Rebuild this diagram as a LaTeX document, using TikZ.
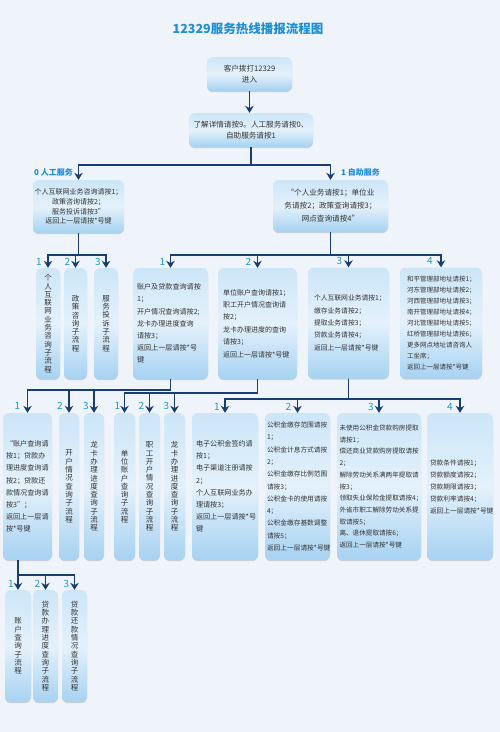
\documentclass[tikz,border=0pt]{standalone}
\usepackage{fontspec}
\setmainfont{Noto Sans CJK SC}
\usetikzlibrary{arrows.meta,shadows}

\definecolor{bgblue}{HTML}{EEF4FA}
\definecolor{boxtop}{HTML}{CCE6F8}
\definecolor{boxmid}{HTML}{E4F1FB}
\definecolor{boxbot}{HTML}{A6D2F2}
\definecolor{navy}{HTML}{173D73}
\definecolor{titleblue}{HTML}{1D8ED6}
\definecolor{numblue}{HTML}{1E9CC6}
\definecolor{boxtext}{HTML}{333333}

\begin{document}
\begin{tikzpicture}[x=1pt,y=-1pt,>={Stealth[length=7pt,width=8.5pt]},
  box/.style={rounded corners=6pt,top color=boxtop,bottom color=boxbot,middle color=boxmid,
    drop shadow={shadow xshift=0pt,shadow yshift=-1.2pt,opacity=.15,fill=black},
    text=boxtext,inner sep=0pt},
  cbox/.style={box,align=center},
  lbox/.style={box,align=left},
  vbox/.style={box,align=center,text width=8pt,font=\fontsize{7.5}{8.3}\selectfont},
  link/.style={draw=navy,line width=1.8pt},
  num/.style={text=numblue,inner sep=0pt,font=\fontsize{10}{10}\selectfont},
  svc/.style={text=titleblue,inner sep=0pt,font=\fontsize{8}{8}\bfseries\selectfont}]

\fill[bgblue] (0,0) rectangle (500,732);

\node[text=titleblue,font=\fontsize{12.5}{12.5}\bfseries\selectfont] (title) at (248,29) {12329服务热线播报流程图};

% top
\node[cbox,minimum width=85pt,minimum height=34pt,font=\fontsize{7.6}{11.5}\selectfont] (call) at (249.5,74) {客户拨打12329\\进入};
\node[cbox,minimum width=124pt,minimum height=34pt,font=\fontsize{7.6}{11.5}\selectfont] (menu) at (251,130) {了解详情请按9。人工服务请按0、\\自助服务请按1};

\node[cbox,minimum width=91pt,minimum height=53pt,font=\fontsize{7}{9.7}\selectfont] (manual) at (78.5,206.5) {个人互联网业务咨询请按1；\\政策咨询请按2；\\服务投诉请按3”\\返回上一层请按*号键};
\node[cbox,minimum width=115pt,minimum height=52pt,font=\fontsize{7.6}{13}\selectfont] (self) at (330.5,206) {“个人业务请按1；单位业\\务请按2；政策查询请按3；\\网点查询请按4”};

\node[svc,anchor=east] (svc0) at (73,172) {0 人工服务};
\node[svc,anchor=west] (svc1) at (341,172) {1 自助服务};

% level 3
\node[vbox,minimum width=24pt,minimum height=111pt] (netq) at (48,323.5) {个\\人\\互\\联\\网\\业\\务\\咨\\询\\子\\流\\程};
\node[vbox,minimum width=23pt,minimum height=111pt] (policy) at (75.5,323.5) {政\\策\\咨\\询\\子\\流\\程};
\node[vbox,minimum width=24pt,minimum height=111pt] (complain) at (106,323.5) {服\\务\\投\\诉\\子\\流\\程};

\node[lbox,minimum width=75pt,minimum height=111pt,text width=67pt,inner xsep=4pt,font=\fontsize{7.1}{12.2}\selectfont] (personal) at (170.5,323.5) {账户及贷款查询请按\\1；\\开户情况查询请按2;\\龙卡办理进度查询\\请按3；\\返回上一层请按*号\\键};
\node[lbox,minimum width=79pt,minimum height=111pt,text width=69pt,inner xsep=5pt,font=\fontsize{7}{12.4}\selectfont] (unit) at (257.5,323.5) {单位账户查询请按1；\\职工开户情况查询请\\按2；\\龙卡办理进度的查询\\请按3；\\返回上一层请按*号键};
\node[lbox,minimum width=81pt,minimum height=111pt,text width=69pt,inner xsep=6pt,font=\fontsize{6.8}{12.4}\selectfont] (business) at (348.5,323) {个人互联网业务请按1；\\缴存业务请按2；\\提取业务请按3；\\贷款业务请按4；\\返回上一层请按*号键};
\node[lbox,minimum width=82pt,minimum height=111pt,text width=68pt,inner xsep=7pt,font=\fontsize{6.5}{11}\selectfont] (branch) at (441,323) {和平管理部地址请按1；\\河东管理部地址请按2；\\河西管理部地址请按3；\\南开管理部地址请按4；\\河北管理部地址请按5；\\红桥管理部地址请按6；\\更多网点地址请咨询人\\工坐席；\\返回上一层请按*号键};

% level 4
\node[lbox,minimum width=49pt,minimum height=147pt,text width=43pt,inner xsep=3pt,font=\fontsize{7.1}{12.2}\selectfont] (acctmenu) at (27.5,486.5) {“账户查询请\\按1；贷款办\\理进度查询请\\按2；贷款还\\款情况查询请\\按3”；\\返回上一层请\\按*号键};
\node[vbox,minimum width=20pt,minimum height=147pt] (openq) at (69,486.5) {开\\户\\情\\况\\查\\询\\子\\流\\程};
\node[vbox,minimum width=20pt,minimum height=147pt] (cardq) at (94,486.5) {龙\\卡\\办\\理\\进\\度\\查\\询\\子\\流\\程};
\node[vbox,minimum width=21pt,minimum height=147pt] (unitacct) at (124.5,486.5) {单\\位\\账\\户\\查\\询\\子\\流\\程};
\node[vbox,minimum width=21pt,minimum height=147pt] (staffopen) at (149.5,486.5) {职\\工\\开\\户\\情\\况\\查\\询\\子\\流\\程};
\node[vbox,minimum width=21pt,minimum height=147pt] (unitcard) at (174.5,486.5) {龙\\卡\\办\\理\\进\\度\\查\\询\\子\\流\\程};
\node[lbox,minimum width=66pt,minimum height=147pt,text width=58pt,inner xsep=4pt,font=\fontsize{7.1}{12.2}\selectfont] (eservice) at (225,486.5) {电子公积金签约请\\按1；\\电子渠道注册请按\\2；\\个人互联网业务办\\理请按3；\\返回上一层请按*号\\键};
\node[lbox,minimum width=65pt,minimum height=147pt,text width=61pt,inner xsep=2pt,font=\fontsize{6.7}{12.3}\selectfont] (deposit) at (297.5,486.5) {公积金缴存范围请按\\1；\\公积金计息方式请按\\2；\\公积金缴存比例范围\\请按3；\\公积金卡的使用请按\\4；\\公积金缴存基数调整\\请按5；\\返回上一层请按*号键};
\node[lbox,minimum width=84pt,minimum height=147pt,text width=79pt,inner xsep=2.5pt,font=\fontsize{6.6}{11.7}\selectfont] (withdraw) at (379,486.5) {未使用公积金贷款购房提取\\请按1；\\偿还商业贷款购房提取请按\\2；\\解除劳动关系满两年提取请\\按3；\\领取失业保险金提取请按4；\\外省市职工解除劳动关系提\\取请按5；\\离、退休提取请按6；\\返回上一层请按*号键};
\node[lbox,minimum width=66pt,minimum height=147pt,text width=60pt,inner xsep=3pt,font=\fontsize{6.7}{12}\selectfont] (loaninfo) at (460,486.5) {贷款条件请按1；\\贷款额度请按2；\\贷款期限请按3；\\贷款利率请按4；\\返回上一层请按*号键};

% level 5
\node[vbox,minimum width=26pt,minimum height=112pt] (acctq) at (18,646) {账\\户\\查\\询\\子\\流\\程};
\node[vbox,minimum width=25pt,minimum height=112pt] (progq) at (45.5,646) {贷\\款\\办\\理\\进\\度\\查\\询\\子\\流\\程};
\node[vbox,minimum width=25pt,minimum height=112pt] (repayq) at (74.5,646) {贷\\款\\还\\款\\情\\况\\查\\询\\子\\流\\程};

% numbers
\node[num] (nnetq) at ([xshift=-9pt,yshift=6pt]netq.north) {1};
\node[num] (npolicy) at ([xshift=-8pt,yshift=6pt]policy.north) {2};
\node[num] (ncomplain) at ([xshift=-8pt,yshift=6pt]complain.north) {3};
\node[num] (npersonal) at ([xshift=-8pt,yshift=6pt]personal.north) {1};
\node[num] (nunit) at ([xshift=-9pt,yshift=6pt]unit.north) {2};
\node[num] (nbusiness) at ([xshift=-9pt,yshift=6pt]business.north) {3};
\node[num] (nbranch) at ([xshift=-11pt,yshift=6pt]branch.north) {4};
\node[num] (nacctmenu) at ([xshift=-10pt,yshift=7pt]acctmenu.north) {1};
\node[num] (nopenq) at ([xshift=-9pt,yshift=7pt]openq.north) {2};
\node[num] (ncardq) at ([xshift=-8pt,yshift=7pt]cardq.north) {3};
\node[num] (nunitacct) at ([xshift=-7pt,yshift=7pt]unitacct.north) {1};
\node[num] (nstaffopen) at ([xshift=-8pt,yshift=7pt]staffopen.north) {2};
\node[num] (nunitcard) at ([xshift=-8pt,yshift=7pt]unitcard.north) {3};
\node[num] (neservice) at ([xshift=-8pt,yshift=6pt]eservice.north) {1};
\node[num] (ndeposit) at ([xshift=-9pt,yshift=6pt]deposit.north) {2};
\node[num] (nwithdraw) at ([xshift=-8pt,yshift=6pt]withdraw.north) {3};
\node[num] (nloaninfo) at ([xshift=-10pt,yshift=6pt]loaninfo.north) {4};
\node[num] (nacctq) at ([xshift=-7pt,yshift=6pt]acctq.north) {1};
\node[num] (nprogq) at ([xshift=-8pt,yshift=6pt]progq.north) {2};
\node[num] (nrepayq) at ([xshift=-8pt,yshift=6pt]repayq.north) {3};

% connectors
\draw[link,->] (call.south) -- (call.south |- menu.north);
\draw[link,->] (menu.south) -- ++(0,18) -| (manual.north);
\draw[link,->] (menu.south) -- ++(0,18) -| (self.north);

\draw[link,->] (manual.south) -- ++(0,22) -| (netq.north);
\draw[link,->] (manual.south) -- ++(0,22) -| (policy.north);
\draw[link,->] (manual.south) -- ++(0,22) -| (complain.north);

\draw[link,->] (self.south) -- ++(0,23) -| (personal.north);
\draw[link,->] (self.south) -- ++(0,23) -| (unit.north);
\draw[link,->] (self.south) -- ++(0,23) -| (business.north);
\draw[link,->] (self.south) -- ++(0,23) -| (branch.north);

\draw[link,->] (personal.south) -- ++(0,11) -| (acctmenu.north);
\draw[link,->] (personal.south) -- ++(0,11) -| (openq.north);
\draw[link,->] (personal.south) -- ++(0,11) -| (cardq.north);

\draw[link,->] (unit.south) -- ++(0,14) -| (unitacct.north);
\draw[link,->] (unit.south) -- ++(0,14) -| (staffopen.north);
\draw[link,->] (unit.south) -- ++(0,14) -| (unitcard.north);

\draw[link,->] (business.south) -- ++(0,20) -| (eservice.north);
\draw[link,->] (business.south) -- ++(0,20) -| (deposit.north);
\draw[link,->] (business.south) -- ++(0,20) -| (withdraw.north);
\draw[link,->] (business.south) -- ++(0,20) -| (loaninfo.north);

\draw[link,->] (acctmenu.south -| acctq.north) -- ++(0,15) -| (acctq.north);
\draw[link,->] (acctmenu.south -| acctq.north) -- ++(0,15) -| (progq.north);
\draw[link,->] (acctmenu.south -| acctq.north) -- ++(0,15) -| (repayq.north);

\end{tikzpicture}
\end{document}
